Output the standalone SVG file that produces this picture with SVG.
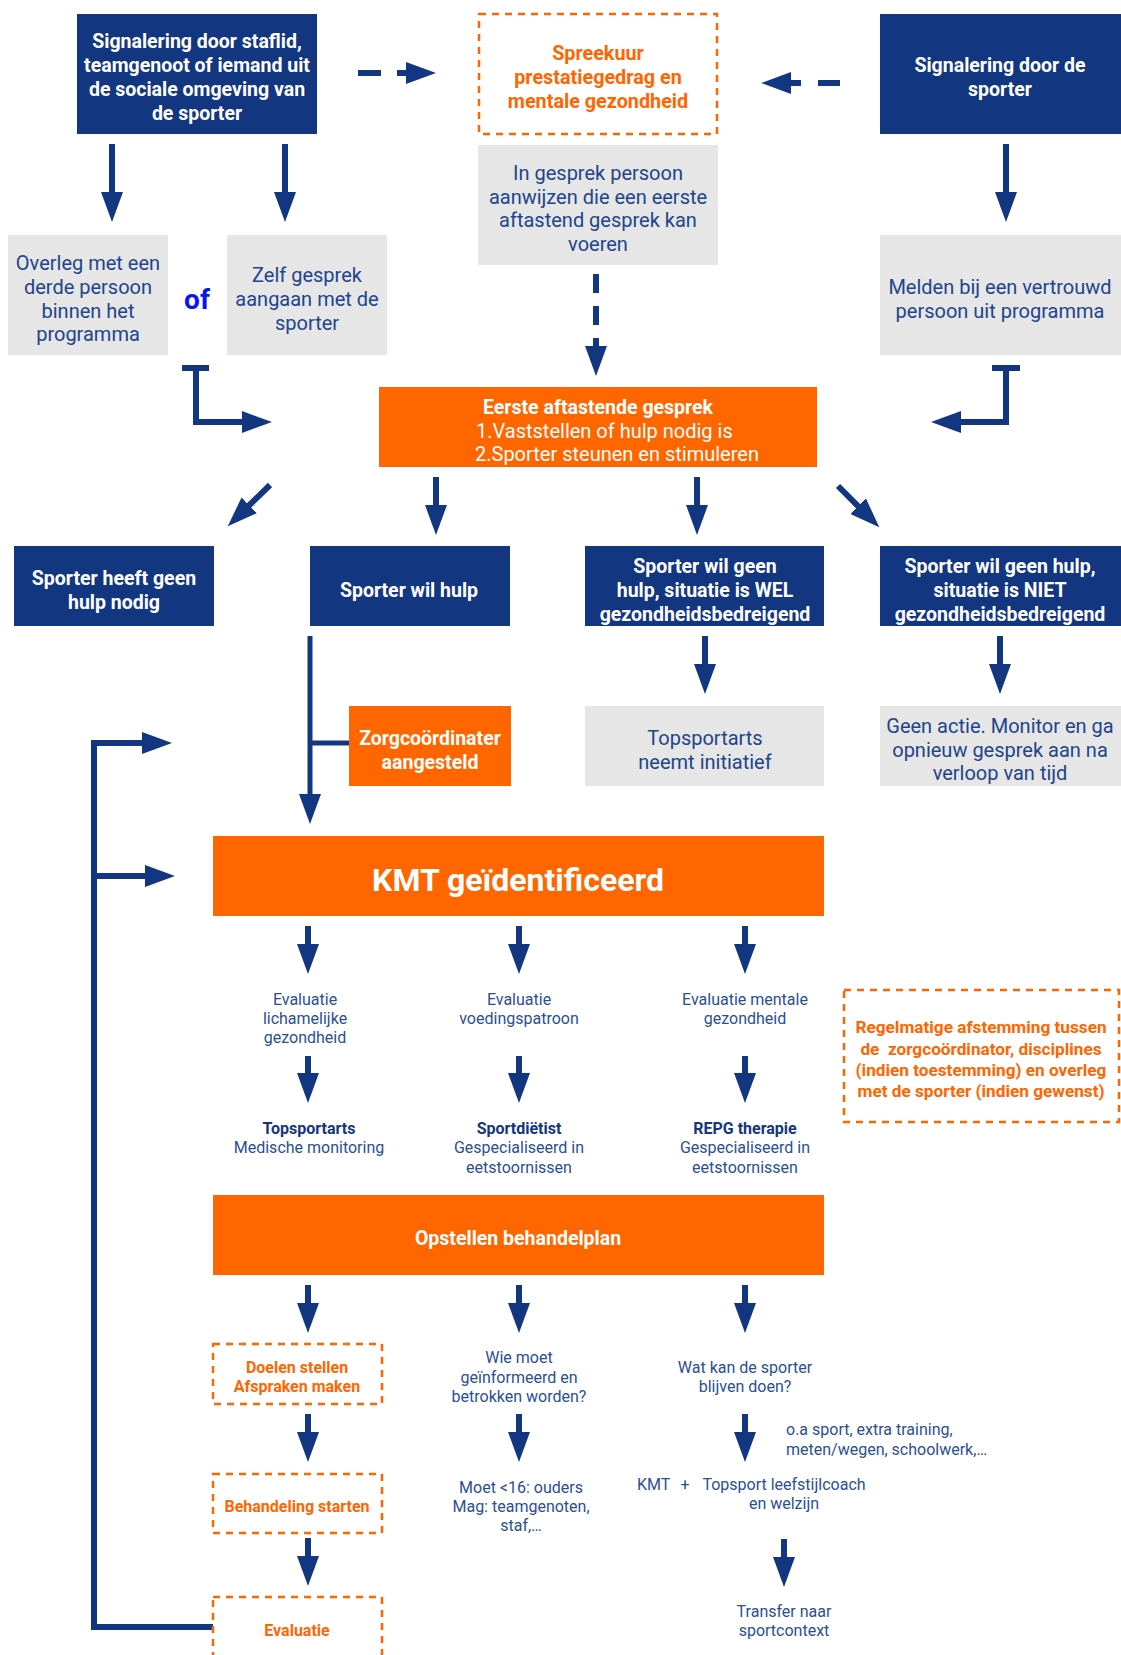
<svg xmlns="http://www.w3.org/2000/svg" width="1121" height="1655" viewBox="0 0 1121 1655">
<style>
text{font-family:Roboto,"Liberation Sans",sans-serif;text-anchor:middle}
.dk{fill:#133680}
.or{fill:#FF6600}
.gr{fill:#E6E6E6}
.od{fill:none;stroke:#FF6600;stroke-width:2.5;stroke-dasharray:7 6}
.bw{font-size:19.5px;font-weight:bold;fill:#fff}
.rw{font-size:20px;fill:#fff}
.bo{font-size:19.8px;font-weight:bold;fill:#FF6600}
.gt{font-size:20px;fill:#21448C}
.st{font-size:16px;fill:#2A4F93}
.sb{font-size:16px;font-weight:bold;fill:#133680}
.so{font-size:16px;font-weight:bold;fill:#FF6600}
.ro{font-size:17.2px;font-weight:bold;fill:#FF6600}
.ln{fill:none;stroke:#133680;stroke-width:6}
.ar{fill:none;stroke:#133680;stroke-width:6;marker-end:url(#ah)}
.thin{fill:none;stroke:#133680;stroke-width:5}
</style>
<defs>
<marker id="ah" markerUnits="userSpaceOnUse" markerWidth="30" markerHeight="22" viewBox="0 0 30 22" refX="1" refY="11" orient="auto">
<path d="M0,0 L30,11 L0,22 z" fill="#133680"/>
</marker>
</defs>
<rect width="1121" height="1655" fill="#fff"/>

<g id="connectors">
<line class="ar" x1="112" y1="144" x2="112" y2="193"/>
<line class="ar" x1="285" y1="144" x2="285" y2="193"/>
<line class="ar" x1="1006" y1="144" x2="1006" y2="193"/>
<line class="ar" x1="358" y1="73" x2="407" y2="73" style="stroke-dasharray:23 16"/>
<line class="ar" x1="840" y1="83" x2="790" y2="83" style="stroke-dasharray:22 17"/>
<line class="ar" x1="596" y1="274" x2="596" y2="347" style="stroke-dasharray:19 13"/>
<line class="ln" x1="182" y1="368" x2="209" y2="368"/>
<polyline class="ar" points="196,365 196,422 243,422"/>
<line class="ln" x1="992" y1="368" x2="1020" y2="368"/>
<polyline class="ar" points="1006,365 1006,422 960,422"/>
<line class="ar" x1="270" y1="485" x2="248.5" y2="506"/>
<line class="ar" x1="436" y1="477" x2="436" y2="506"/>
<line class="ar" x1="697" y1="477" x2="697" y2="506"/>
<line class="ar" x1="838" y1="486" x2="858.8" y2="506.8"/>
<line class="ar" x1="705" y1="636" x2="705" y2="665"/>
<line class="ar" x1="1000" y1="636" x2="1000" y2="665"/>
<line class="ar" x1="310" y1="636" x2="310" y2="795" style="stroke-width:5"/>
<line class="thin" x1="310" y1="743" x2="349" y2="743"/>
<polyline class="ln" points="213,1627 94,1627 94,743"/>
<line class="ar" x1="91" y1="743" x2="143" y2="743"/>
<line class="ar" x1="94" y1="876" x2="146" y2="876"/>
<line class="ar" x1="308" y1="926" x2="308" y2="945"/>
<line class="ar" x1="519" y1="926" x2="519" y2="945"/>
<line class="ar" x1="745" y1="926" x2="745" y2="945"/>
<line class="ar" x1="308" y1="1056" x2="308" y2="1074"/>
<line class="ar" x1="519" y1="1056" x2="519" y2="1074"/>
<line class="ar" x1="745" y1="1056" x2="745" y2="1074"/>
<line class="ar" x1="308" y1="1285" x2="308" y2="1304"/>
<line class="ar" x1="519" y1="1285" x2="519" y2="1304"/>
<line class="ar" x1="745" y1="1285" x2="745" y2="1304"/>
<line class="ar" x1="308" y1="1414" x2="308" y2="1433"/>
<line class="ar" x1="519" y1="1414" x2="519" y2="1433"/>
<line class="ar" x1="745" y1="1414" x2="745" y2="1433"/>
<line class="ar" x1="308" y1="1538" x2="308" y2="1557"/>
<line class="ar" x1="784" y1="1539" x2="784" y2="1558"/>
</g>

<g id="n-signalering-staf">
<rect class="dk" x="77" y="14" width="240" height="120"/>
<text class="bw" x="197" y="48">Signalering door staflid,</text>
<text class="bw" x="197" y="72">teamgenoot of iemand uit</text>
<text class="bw" x="197" y="96">de sociale omgeving van</text>
<text class="bw" x="197" y="120">de sporter</text>
</g>
<g id="n-spreekuur">
<rect class="od" x="479" y="14" width="238" height="120"/>
<text class="bo" x="598" y="60">Spreekuur</text>
<text class="bo" x="598" y="84">prestatiegedrag en</text>
<text class="bo" x="598" y="108">mentale gezondheid</text>
</g>
<g id="n-signalering-sporter">
<rect class="dk" x="880" y="14" width="241" height="120"/>
<text class="bw" x="1000" y="72">Signalering door de</text>
<text class="bw" x="1000" y="96">sporter</text>
</g>
<g id="n-in-gesprek">
<rect class="gr" x="478" y="145" width="240" height="120"/>
<text class="gt" x="598" y="180">In gesprek persoon</text>
<text class="gt" x="598" y="204">aanwijzen die een eerste</text>
<text class="gt" x="598" y="227">aftastend gesprek kan</text>
<text class="gt" x="598" y="251">voeren</text>
</g>
<g id="n-overleg">
<rect class="gr" x="8" y="235" width="160" height="120"/>
<text class="gt" x="88" y="270">Overleg met een</text>
<text class="gt" x="88" y="294">derde persoon</text>
<text class="gt" x="88" y="318">binnen het</text>
<text class="gt" x="88" y="341">programma</text>
</g>
<g id="n-of">
<text x="197" y="309" style="font-size:28px;font-weight:bold;fill:#0A14F0">of</text>
</g>
<g id="n-zelf">
<rect class="gr" x="227" y="235" width="160" height="120"/>
<text class="gt" x="307" y="282">Zelf gesprek</text>
<text class="gt" x="307" y="306">aangaan met de</text>
<text class="gt" x="307" y="330">sporter</text>
</g>
<g id="n-melden">
<rect class="gr" x="880" y="235" width="241" height="120"/>
<text class="gt" x="1000" y="294">Melden bij een vertrouwd</text>
<text class="gt" x="1000" y="318">persoon uit programma</text>
</g>
<g id="n-eerste">
<rect class="or" x="379" y="387" width="438" height="80"/>
<text class="bw" x="598" y="414">Eerste aftastende gesprek</text>
<text class="rw" x="476" y="438" style="text-anchor:start">1.Vaststellen of hulp nodig is</text>
<text class="rw" x="475" y="461" style="text-anchor:start">2.Sporter steunen en stimuleren</text>
</g>
<g id="n-geen-hulp-nodig">
<rect class="dk" x="14" y="546" width="200" height="80"/>
<text class="bw" x="114" y="585">Sporter heeft geen</text>
<text class="bw" x="114" y="609">hulp nodig</text>
</g>
<g id="n-wil-hulp">
<rect class="dk" x="310" y="546" width="200" height="80"/>
<text class="bw" x="409" y="597">Sporter wil hulp</text>
</g>
<g id="n-wel">
<rect class="dk" x="585" y="546" width="239" height="80"/>
<text class="bw" x="705" y="573">Sporter wil geen</text>
<text class="bw" x="705" y="597">hulp, situatie is WEL</text>
<text class="bw" x="705" y="621">gezondheidsbedreigend</text>
</g>
<g id="n-niet">
<rect class="dk" x="880" y="546" width="241" height="80"/>
<text class="bw" x="1000" y="573">Sporter wil geen hulp,</text>
<text class="bw" x="1000" y="597">situatie is NIET</text>
<text class="bw" x="1000" y="621">gezondheidsbedreigend</text>
</g>
<g id="n-zorg">
<rect class="or" x="349" y="706" width="162" height="80"/>
<text class="bw" x="430" y="745">Zorgcoördinater</text>
<text class="bw" x="430" y="769">aangesteld</text>
</g>
<g id="n-topsportarts-init">
<rect class="gr" x="585" y="706" width="239" height="80"/>
<text class="gt" x="705" y="745">Topsportarts</text>
<text class="gt" x="705" y="769">neemt initiatief</text>
</g>
<g id="n-geen-actie">
<rect class="gr" x="880" y="706" width="241" height="80"/>
<text class="gt" x="1000" y="733">Geen actie. Monitor en ga</text>
<text class="gt" x="1000" y="757">opnieuw gesprek aan na</text>
<text class="gt" x="1000" y="780">verloop van tijd</text>
</g>
<g id="n-kmt">
<rect class="or" x="213" y="836" width="611" height="80"/>
<text x="518" y="891" style="font-size:32px;font-weight:bold;fill:#fff">KMT geïdentificeerd</text>
</g>
<g id="n-eval-lich">
<text class="st" x="305" y="1005">Evaluatie</text>
<text class="st" x="305" y="1024">lichamelijke</text>
<text class="st" x="305" y="1043">gezondheid</text>
</g>
<g id="n-eval-voed">
<text class="st" x="519" y="1005">Evaluatie</text>
<text class="st" x="519" y="1024">voedingspatroon</text>
</g>
<g id="n-eval-ment">
<text class="st" x="745" y="1005">Evaluatie mentale</text>
<text class="st" x="745" y="1024">gezondheid</text>
</g>
<g id="n-regelmatige">
<rect class="od" x="844" y="990" width="275" height="132"/>
<text class="ro" x="981" y="1033">Regelmatige afstemming tussen</text>
<text class="ro" x="981" y="1055" xml:space="preserve">de  zorgcoördinator, disciplines</text>
<text class="ro" x="981" y="1076">(indien toestemming) en overleg</text>
<text class="ro" x="981" y="1097">met de sporter (indien gewenst)</text>
</g>
<g id="n-topsportarts">
<text class="sb" x="309" y="1134">Topsportarts</text>
<text class="st" x="309" y="1153">Medische monitoring</text>
</g>
<g id="n-sportdietist">
<text class="sb" x="519" y="1134">Sportdiëtist</text>
<text class="st" x="519" y="1153">Gespecialiseerd in</text>
<text class="st" x="519" y="1173">eetstoornissen</text>
</g>
<g id="n-repg">
<text class="sb" x="745" y="1134">REPG therapie</text>
<text class="st" x="745" y="1153">Gespecialiseerd in</text>
<text class="st" x="745" y="1173">eetstoornissen</text>
</g>
<g id="n-opstellen">
<rect class="or" x="213" y="1195" width="611" height="80"/>
<text class="bw" x="518" y="1245">Opstellen behandelplan</text>
</g>
<g id="n-doelen">
<rect class="od" x="213" y="1344" width="169" height="60"/>
<text class="so" x="297" y="1373">Doelen stellen</text>
<text class="so" x="297" y="1392">Afspraken maken</text>
</g>
<g id="n-wie">
<text class="st" x="519" y="1363">Wie moet</text>
<text class="st" x="519" y="1383">geïnformeerd en</text>
<text class="st" x="519" y="1402">betrokken worden?</text>
</g>
<g id="n-wat">
<text class="st" x="745" y="1373">Wat kan de sporter</text>
<text class="st" x="745" y="1392">blijven doen?</text>
</g>
<g id="n-oa">
<text class="st" x="786" y="1435" style="text-anchor:start">o.a sport, extra training,</text>
<text class="st" x="786" y="1455" style="text-anchor:start">meten/wegen, schoolwerk,…</text>
</g>
<g id="n-behandeling">
<rect class="od" x="213" y="1474" width="169" height="59"/>
<text class="so" x="297" y="1512">Behandeling starten</text>
</g>
<g id="n-moet">
<text class="st" x="521" y="1493">Moet &lt;16: ouders</text>
<text class="st" x="521" y="1512">Mag: teamgenoten,</text>
<text class="st" x="521" y="1531">staf,…</text>
</g>
<g id="n-kmt-coach">
<text class="st" x="637" y="1490" style="text-anchor:start">KMT</text>
<text class="st" x="685" y="1490">+</text>
<text class="st" x="784" y="1490">Topsport leefstijlcoach</text>
<text class="st" x="784" y="1509">en welzijn</text>
</g>
<g id="n-evaluatie">
<rect class="od" x="213" y="1597" width="169" height="70"/>
<text class="so" x="297" y="1636">Evaluatie</text>
</g>
<g id="n-transfer">
<text class="st" x="784" y="1617">Transfer naar</text>
<text class="st" x="784" y="1636">sportcontext</text>
</g>
</svg>
